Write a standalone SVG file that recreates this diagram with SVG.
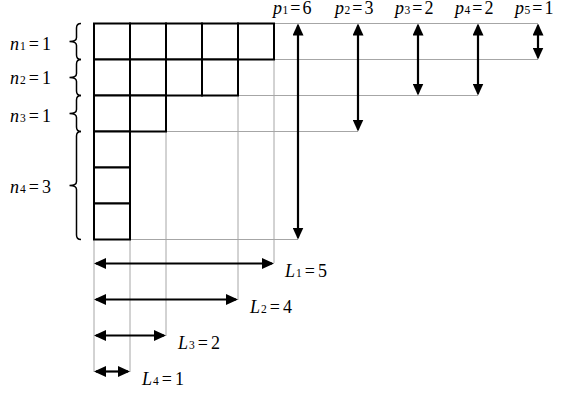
<svg xmlns="http://www.w3.org/2000/svg" width="561" height="395" viewBox="0 0 561 395">
<style>
.g{stroke:#a6a6a6;stroke-width:1;fill:none}
.c{stroke:#000;stroke-width:2;fill:#fff}
.a{stroke:#000;stroke-width:2.2;fill:none;marker-start:url(#ah);marker-end:url(#ah)}
.b{stroke:#000;stroke-width:1.5;fill:none}
text{font-family:"Liberation Serif","Times New Roman",serif;font-size:18px;fill:#000}
.i{font-style:italic}
.s{font-size:11.5px}
</style>
<defs>
<marker id="ah" markerUnits="userSpaceOnUse" markerWidth="12" markerHeight="11" viewBox="0 0 12 11" refX="10" refY="5.5" orient="auto-start-reverse"><path d="M0,0 L12,5.5 L0,11 z" fill="#000"/></marker>
</defs>
<g id="guides">
<line class="g" x1="274" y1="23.5" x2="538" y2="23.5"/>
<line class="g" x1="274" y1="59.5" x2="538" y2="59.5"/>
<line class="g" x1="238" y1="95.5" x2="478" y2="95.5"/>
<line class="g" x1="166" y1="131.5" x2="358" y2="131.5"/>
<line class="g" x1="130" y1="239.5" x2="298" y2="239.5"/>
<line class="g" x1="94" y1="239" x2="94" y2="372"/>
<line class="g" x1="130" y1="239" x2="130" y2="372"/>
<line class="g" x1="166" y1="131" x2="166" y2="336"/>
<line class="g" x1="238" y1="95" x2="238" y2="300"/>
<line class="g" x1="274" y1="59" x2="274" y2="263"/>
</g>
<g id="grid">
<rect class="c" x="94" y="23.5" width="36" height="36"/>
<rect class="c" x="130" y="23.5" width="36" height="36"/>
<rect class="c" x="166" y="23.5" width="36" height="36"/>
<rect class="c" x="202" y="23.5" width="36" height="36"/>
<rect class="c" x="238" y="23.5" width="36" height="36"/>
<rect class="c" x="94" y="59.5" width="36" height="36"/>
<rect class="c" x="130" y="59.5" width="36" height="36"/>
<rect class="c" x="166" y="59.5" width="36" height="36"/>
<rect class="c" x="202" y="59.5" width="36" height="36"/>
<rect class="c" x="94" y="95.5" width="36" height="36"/>
<rect class="c" x="130" y="95.5" width="36" height="36"/>
<rect class="c" x="94" y="131.5" width="36" height="36"/>
<rect class="c" x="94" y="167.5" width="36" height="36"/>
<rect class="c" x="94" y="203.5" width="36" height="36"/>
</g>
<g id="braces">
<path class="b" d="M81,23.5 Q76.5,23.5 76.5,28 L76.5,37.5 Q76.5,41.5 69.5,41.5 Q76.5,41.5 76.5,45.5 L76.5,55 Q76.5,59.5 81,59.5"/>
<path class="b" d="M81,59.5 Q76.5,59.5 76.5,64 L76.5,73.5 Q76.5,77.5 69.5,77.5 Q76.5,77.5 76.5,81.5 L76.5,91 Q76.5,95.5 81,95.5"/>
<path class="b" d="M81,95.5 Q76.5,95.5 76.5,100 L76.5,109.5 Q76.5,113.5 69.5,113.5 Q76.5,113.5 76.5,117.5 L76.5,127 Q76.5,131.5 81,131.5"/>
<path class="b" d="M81,131.5 Q76.5,131.5 76.5,136 L76.5,181.5 Q76.5,185.5 69.5,185.5 Q76.5,185.5 76.5,189.5 L76.5,235 Q76.5,239.5 81,239.5"/>
</g>
<g id="connectors">
<line class="a" x1="298" y1="25.5" x2="298" y2="237.5"/>
<line class="a" x1="358" y1="25.5" x2="358" y2="129.5"/>
<line class="a" x1="418" y1="25.5" x2="418" y2="93.5"/>
<line class="a" x1="478" y1="25.5" x2="478" y2="93.5"/>
<line class="a" x1="538" y1="25.5" x2="538" y2="57.5"/>
<line class="a" x1="96" y1="263.5" x2="272" y2="263.5"/>
<line class="a" x1="96" y1="299.5" x2="236" y2="299.5"/>
<line class="a" x1="96" y1="335.5" x2="164" y2="335.5"/>
<line class="a" x1="96" y1="371.5" x2="128" y2="371.5"/>
</g>
<g id="labels-p">
<text x="273" y="14"><tspan class="i">p</tspan><tspan class="s" dx="0.5">1</tspan><tspan dx="2">=</tspan><tspan dx="2">6</tspan></text>
<text x="335" y="14"><tspan class="i">p</tspan><tspan class="s" dx="0.5">2</tspan><tspan dx="2">=</tspan><tspan dx="2">3</tspan></text>
<text x="395" y="14"><tspan class="i">p</tspan><tspan class="s" dx="0.5">3</tspan><tspan dx="2">=</tspan><tspan dx="2">2</tspan></text>
<text x="455" y="14"><tspan class="i">p</tspan><tspan class="s" dx="0.5">4</tspan><tspan dx="2">=</tspan><tspan dx="2">2</tspan></text>
<text x="515" y="14"><tspan class="i">p</tspan><tspan class="s" dx="0.5">5</tspan><tspan dx="2">=</tspan><tspan dx="2">1</tspan></text>
</g>
<g id="labels-n">
<text x="10" y="49.5"><tspan class="i">n</tspan><tspan class="s" dx="1">1</tspan><tspan dx="3">=</tspan><tspan dx="3">1</tspan></text>
<text x="10" y="84"><tspan class="i">n</tspan><tspan class="s" dx="1">2</tspan><tspan dx="3">=</tspan><tspan dx="3">1</tspan></text>
<text x="10" y="121.5"><tspan class="i">n</tspan><tspan class="s" dx="1">3</tspan><tspan dx="3">=</tspan><tspan dx="3">1</tspan></text>
<text x="10" y="192.5"><tspan class="i">n</tspan><tspan class="s" dx="1">4</tspan><tspan dx="3">=</tspan><tspan dx="3">3</tspan></text>
</g>
<g id="labels-L">
<text x="285" y="277"><tspan class="i">L</tspan><tspan class="s" dx="1">1</tspan><tspan dx="3">=</tspan><tspan dx="3">5</tspan></text>
<text x="250" y="313"><tspan class="i">L</tspan><tspan class="s" dx="1">2</tspan><tspan dx="3">=</tspan><tspan dx="3">4</tspan></text>
<text x="178" y="349"><tspan class="i">L</tspan><tspan class="s" dx="1">3</tspan><tspan dx="3">=</tspan><tspan dx="3">2</tspan></text>
<text x="142" y="385"><tspan class="i">L</tspan><tspan class="s" dx="1">4</tspan><tspan dx="3">=</tspan><tspan dx="3">1</tspan></text>
</g>
</svg>
